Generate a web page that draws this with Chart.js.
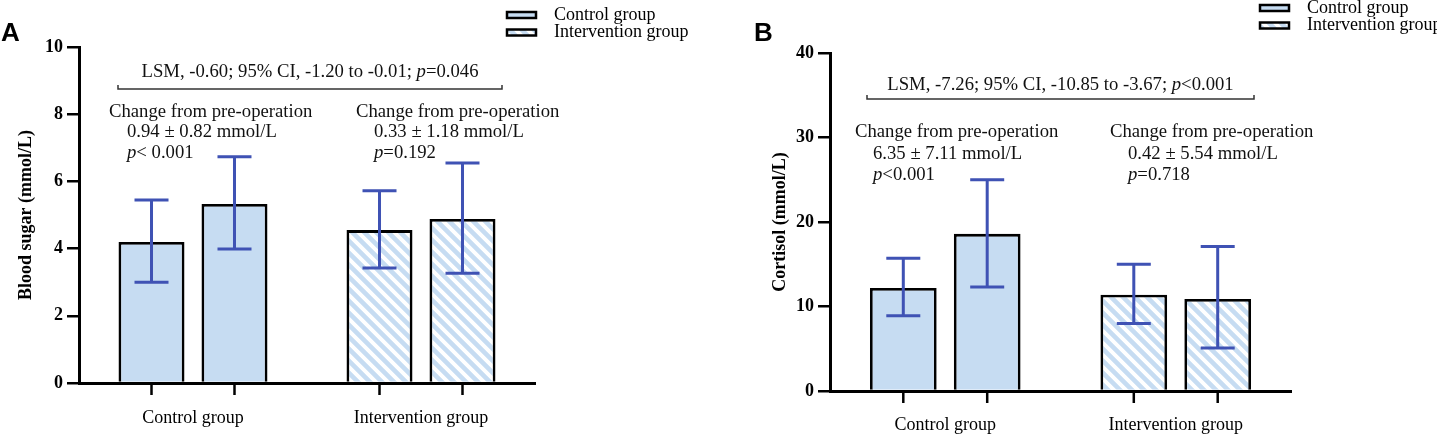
<!DOCTYPE html>
<html>
<head>
<meta charset="utf-8">
<script src="https://cdn.jsdelivr.net/npm/chart.js@4.4.1/dist/chart.umd.min.js"></script>
<style>
  body { margin: 0; background: #fff; }
  #wrap { position: relative; width: 1437px; height: 435px; }
  canvas { position: absolute; top: 0; }
  #chartA { left: 0; }
  #chartB { left: 718px; }
</style>
</head>
<body>
<div id="wrap">
  <canvas id="chartA" width="718" height="435"></canvas>
  <canvas id="chartB" width="719" height="435"></canvas>
</div>
<script>
// Categorias e séries
const groups = ['Control group', 'Intervention group'];
const seriesNames = ['Pre-operation', 'Post-operation'];
const legendLabels = ['Control group', 'Intervention group'];

// Painel A - glicemia (mmol/L)
const sugarPre = [4.20, 4.55];
const sugarPost = [5.33, 4.88];
const sugarPreLow = [3.00, 3.42];
const sugarPreHigh = [5.45, 5.72];
const sugarPostLow = [3.99, 3.27];
const sugarPostHigh = [6.73, 6.55];
const sugarTicks = [0, 2, 4, 6, 8, 10];
const sugarNoteTop = 'LSM, -0.60; 95% CI, -1.20 to -0.01; *p*=0.046';
const sugarNoteLeft = ['Change from pre-operation', '0.94 ± 0.82 mmol/L', '*p*< 0.001'];
const sugarNoteRight = ['Change from pre-operation', '0.33 ± 1.18 mmol/L', '*p*=0.192'];

// Painel B - cortisol
const cortPre = [12.2, 11.4];
const cortPost = [18.6, 10.9];
const cortPreLow = [8.9, 8.0];
const cortPreHigh = [15.7, 15.0];
const cortPostLow = [12.3, 5.1];
const cortPostHigh = [25.0, 17.1];
const cortTicks = [0, 10, 20, 30, 40];
const cortNoteTop = 'LSM, -7.26; 95% CI, -10.85 to -3.67; *p*<0.001';
const cortNoteLeft = ['Change from pre-operation', '6.35 ± 7.11 mmol/L', '*p*<0.001'];
const cortNoteRight = ['Change from pre-operation', '0.42 ± 5.54 mmol/L', '*p*=0.718'];

const SERIF = '"Liberation Serif", "Times New Roman", serif';
const BLUE_FILL = '#c6dcf2';
const ERR_BLUE = '#3f52b4';
const NOTE_SIZE = 18.7;

// Padrão listrado para o grupo de intervenção
function makeStripes(ctx) {
    const s = 12;
    const c = document.createElement('canvas');
    c.width = s; c.height = s;
    const g = c.getContext('2d');
    g.fillStyle = '#ffffff';
    g.fillRect(0, 0, s, s);
    g.strokeStyle = BLUE_FILL;
    g.lineWidth = 4.6;
    g.beginPath();
    for (let k = -1; k <= 1; k++) {
        g.moveTo(-2, k * s - 2);
        g.lineTo(s + 2, k * s + s + 2);
    }
    g.stroke();
    return ctx.createPattern(c, 'repeat');
}

// Texto com trechos em itálico marcados por *...*
function drawRich(ctx, text, x, y, align) {
    const parts = text.split('*');
    const fonts = parts.map((p, i) => (i % 2 ? 'italic ' : '') + NOTE_SIZE + 'px ' + SERIF);
    let total = 0;
    const widths = parts.map((p, i) => {
        ctx.font = fonts[i];
        const w = ctx.measureText(p).width;
        total += w;
        return w;
    });
    let cx = align === 'center' ? x - total / 2 : x;
    ctx.textAlign = 'left';
    ctx.textBaseline = 'middle';
    parts.forEach((p, i) => {
        ctx.font = fonts[i];
        ctx.fillText(p, cx, y);
        cx += widths[i];
    });
}

function panelPlugin(d, fills) {
    return {
        id: 'panelExtras',
        afterDatasetsDraw(chart) {
            const ctx = chart.ctx;
            const yScale = chart.scales.y;
            ctx.save();
            ctx.strokeStyle = ERR_BLUE;
            ctx.lineWidth = 3;
            d.errors.forEach((err, i) => {
                chart.getDatasetMeta(i).data.forEach((bar, j) => {
                    const yl = yScale.getPixelForValue(err.low[j]);
                    const yh = yScale.getPixelForValue(err.high[j]);
                    ctx.beginPath();
                    ctx.moveTo(bar.x, yl); ctx.lineTo(bar.x, yh);
                    ctx.moveTo(bar.x - 17, yl); ctx.lineTo(bar.x + 17, yl);
                    ctx.moveTo(bar.x - 17, yh); ctx.lineTo(bar.x + 17, yh);
                    ctx.stroke();
                });
            });
            ctx.restore();
        },
        afterDraw(chart) {
            const ctx = chart.ctx;
            const area = chart.chartArea;
            ctx.save();

            // marcas do eixo x em cada barra
            ctx.strokeStyle = '#000';
            ctx.lineWidth = 2.5;
            chart.data.datasets.forEach((ds, i) => {
                chart.getDatasetMeta(i).data.forEach(bar => {
                    ctx.beginPath();
                    ctx.moveTo(bar.x, area.bottom);
                    ctx.lineTo(bar.x, area.bottom + 12);
                    ctx.stroke();
                });
            });

            // colchete e texto de comparação
            const n = d.notes;
            ctx.fillStyle = '#111';
            ctx.strokeStyle = '#333';
            ctx.lineWidth = 1.5;
            ctx.beginPath();
            ctx.moveTo(n.bx1, n.by - 4);
            ctx.lineTo(n.bx1, n.by);
            ctx.lineTo(n.bx2, n.by);
            ctx.lineTo(n.bx2, n.by - 4);
            ctx.stroke();
            drawRich(ctx, d.top, (n.bx1 + n.bx2) / 2, n.ty, 'center');

            [[d.left, n.lx], [d.right, n.rx]].forEach(([lines, x0]) => {
                lines.forEach((t, k) => {
                    drawRich(ctx, t, k === 0 ? x0 : x0 + n.indent, n.ly[k], 'left');
                });
            });

            // legenda
            const lg = d.legend;
            legendLabels.forEach((lab, i) => {
                const yy = lg.y + i * 17.5;
                ctx.fillStyle = fills[i];
                ctx.fillRect(lg.x, yy - 3, 29, 6);
                ctx.lineWidth = 2.5;
                ctx.strokeStyle = '#000';
                ctx.strokeRect(lg.x, yy - 3, 29, 6);
                ctx.fillStyle = '#000';
                ctx.font = '18px ' + SERIF;
                ctx.textAlign = 'left';
                ctx.textBaseline = 'middle';
                ctx.fillText(lab, lg.x + 47, yy);
            });

            // letra do painel
            ctx.font = 'bold 26px "Liberation Sans", Arial, sans-serif';
            ctx.textBaseline = 'alphabetic';
            ctx.fillStyle = '#000';
            ctx.fillText(d.letter, d.letterX, 41);
            ctx.restore();
        }
    };
}

function makeChart(id, d) {
    const ctx = document.getElementById(id).getContext('2d');
    const fills = [BLUE_FILL, makeStripes(ctx)];
    return new Chart(ctx, {
        type: 'bar',
        data: {
            labels: groups,
            datasets: [
                { label: seriesNames[0], data: d.pre, backgroundColor: fills, borderColor: '#000', borderWidth: 2.8 },
                { label: seriesNames[1], data: d.post, backgroundColor: fills, borderColor: '#000', borderWidth: 2.8 }
            ]
        },
        options: {
            responsive: false,
            animation: false,
            layout: { padding: d.padding },
            datasets: { bar: { categoryPercentage: 0.728, barPercentage: 0.795 } },
            plugins: { legend: { display: false }, tooltip: { enabled: false } },
            scales: {
                x: {
                    grid: { display: true, drawOnChartArea: false, drawTicks: false },
                    border: { color: '#000', width: 3 },
                    ticks: { color: '#000', padding: d.xPad, font: { family: SERIF, size: 18 } },
                    afterFit: s => { s.height = d.xHeight; }
                },
                y: {
                    min: 0,
                    max: d.ticks[d.ticks.length - 1],
                    afterBuildTicks: s => { s.ticks = d.ticks.map(v => ({ value: v })); },
                    grid: { drawOnChartArea: false, drawTicks: true, tickLength: 12, color: '#000', lineWidth: 2.5 },
                    border: { color: '#000', width: 3 },
                    ticks: { color: '#000', padding: 4, font: { family: SERIF, size: 18, weight: 'bold' } },
                    title: {
                        display: true, text: d.title, color: '#000',
                        font: { family: SERIF, size: 18, weight: 'bold' },
                        padding: { top: 16, bottom: 0 }
                    },
                    afterFit: s => { s.width = d.yWidth; }
                }
            }
        },
        plugins: [panelPlugin(d, fills)]
    });
}

makeChart('chartA', {
    pre: sugarPre, post: sugarPost,
    errors: [{ low: sugarPreLow, high: sugarPreHigh }, { low: sugarPostLow, high: sugarPostHigh }],
    ticks: sugarTicks,
    title: 'Blood sugar (mmol/L)',
    top: sugarNoteTop, left: sugarNoteLeft, right: sugarNoteRight,
    padding: { left: 0, top: 47, right: 183, bottom: 0 },
    yWidth: 79, xHeight: 52, xPad: 24,
    notes: { bx1: 118, bx2: 502, by: 89, ty: 72, lx: 109, rx: 356, indent: 18, ly: [112, 132, 153] },
    legend: { x: 507, y: 15 },
    letter: 'A', letterX: 1
});

makeChart('chartB', {
    pre: cortPre, post: cortPost,
    errors: [{ low: cortPreLow, high: cortPreHigh }, { low: cortPostLow, high: cortPostHigh }],
    ticks: cortTicks,
    title: 'Cortisol (mmol/L)',
    top: cortNoteTop, left: cortNoteLeft, right: cortNoteRight,
    padding: { left: 36, top: 53, right: 146, bottom: 0 },
    yWidth: 76, xHeight: 44, xPad: 23,
    notes: { bx1: 149, bx2: 536, by: 99, ty: 85, lx: 137, rx: 392, indent: 18, ly: [132, 154, 175] },
    legend: { x: 542, y: 8 },
    letter: 'B', letterX: 36
});
</script>
</body>
</html>
